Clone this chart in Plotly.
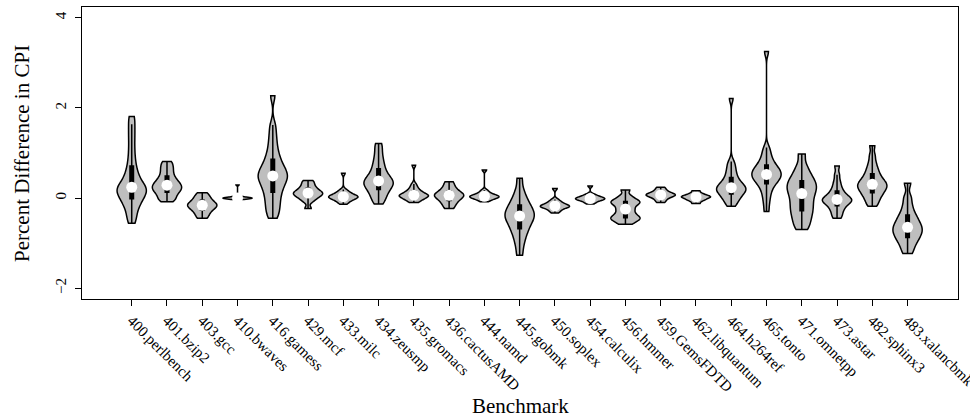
import numpy as np
import plotly.graph_objects as go

benchmarks = ["400.perlbench", "401.bzip2", "403.gcc", "410.bwaves", "416.gamess",
              "429.mcf", "433.milc", "434.zeusmp", "435.gromacs", "436.cactusAMD",
              "444.namd", "445.gobmk", "450.soplex", "454.calculix", "456.hmmer",
              "459.GemsFDTD", "462.libquantum", "464.h264ref", "465.tonto",
              "471.omnetpp", "473.astar", "482.sphinx3", "483.xalancbmk"]

# Percent difference in CPI
perlbench = [-0.56, -0.44, -0.33, -0.24, -0.16, -0.10, -0.05, 0.00, 0.04, 0.08, 0.12,
             0.15, 0.18, 0.21, 0.24, 0.28, 0.32, 0.37, 0.43, 0.50, 0.58, 0.68, 0.80,
             0.95, 1.12, 1.30, 1.47, 1.64, 1.81]
bzip2 = [-0.08, -0.03, 0.02, 0.07, 0.11, 0.15, 0.18, 0.21, 0.24, 0.27, 0.30, 0.33,
         0.37, 0.41, 0.46, 0.52, 0.59, 0.66, 0.73, 0.81]
gcc = [-0.45, -0.38, -0.32, -0.27, -0.23, -0.20, -0.17, -0.15, -0.12, -0.09, -0.05,
       0.00, 0.05, 0.12]
bwaves = [-0.03, -0.02, -0.02, -0.01, -0.01, -0.01, 0.0, 0.0, 0.0, 0.01, 0.01, 0.01,
          0.02, 0.02, 0.03, 0.29]
gamess = [-0.45, -0.34, -0.24, -0.15, -0.06, 0.03, 0.11, 0.18, 0.25, 0.31, 0.36, 0.41,
          0.45, 0.49, 0.53, 0.57, 0.62, 0.67, 0.73, 0.80, 0.88, 0.98, 1.10, 1.25,
          1.42, 1.62, 2.27]
mcf = [-0.23, -0.08, -0.02, 0.02, 0.05, 0.08, 0.10, 0.12, 0.15, 0.18, 0.22, 0.27,
       0.33, 0.39]
milc = [-0.14, -0.10, -0.07, -0.05, -0.03, -0.01, 0.00, 0.01, 0.02, 0.03, 0.04, 0.05,
        0.06, 0.08, 0.10, 0.12, 0.15, 0.19, 0.55]
zeusmp = [-0.13, -0.05, 0.02, 0.08, 0.13, 0.18, 0.22, 0.26, 0.29, 0.32, 0.35, 0.38,
          0.41, 0.45, 0.49, 0.54, 0.60, 0.67, 0.75, 0.84, 0.95, 1.08, 1.21]
gromacs = [-0.10, -0.07, -0.04, -0.02, 0.00, 0.02, 0.03, 0.04, 0.05, 0.06, 0.07, 0.08,
           0.10, 0.12, 0.14, 0.17, 0.20, 0.25, 0.31, 0.73]
cactusADM = [-0.23, -0.15, -0.09, -0.04, 0.00, 0.03, 0.06, 0.08, 0.11, 0.15, 0.20,
             0.27, 0.36]
namd = [-0.08, -0.05, -0.03, -0.01, 0.00, 0.01, 0.02, 0.03, 0.04, 0.05, 0.06, 0.07,
        0.09, 0.11, 0.14, 0.18, 0.62]
gobmk = [-1.27, -1.05, -0.90, -0.78, -0.70, -0.62, -0.55, -0.49, -0.44, -0.40, -0.36,
         -0.31, -0.26, -0.20, -0.14, -0.06, 0.04, 0.18, 0.44]
soplex = [-0.33, -0.29, -0.26, -0.23, -0.21, -0.20, -0.19, -0.18, -0.17, -0.16, -0.14,
          -0.12, -0.10, -0.07, -0.03, 0.21]
calculix = [-0.13, -0.10, -0.07, -0.05, -0.04, -0.03, -0.02, -0.01, 0.00, 0.01, 0.02,
            0.04, 0.06, 0.09, 0.27]
hmmer = [-0.58, -0.52, -0.48, -0.45, -0.42, -0.38, -0.33, -0.27, -0.22, -0.16, -0.12,
         -0.09, -0.06, -0.02, 0.05, 0.18]
gemsfdtd = [-0.10, -0.05, -0.01, 0.02, 0.04, 0.06, 0.07, 0.08, 0.10, 0.12, 0.15, 0.19, 0.24]
libquantum = [-0.12, -0.07, -0.04, -0.02, 0.00, 0.02, 0.03, 0.04, 0.06, 0.08, 0.11, 0.16]
h264ref = [-0.18, -0.11, -0.05, 0.00, 0.04, 0.08, 0.11, 0.14, 0.17, 0.19, 0.21, 0.23,
           0.26, 0.29, 0.32, 0.36, 0.41, 0.47, 0.54, 0.62, 0.71, 0.81, 2.21]
tonto = [-0.30, -0.12, 0.02, 0.13, 0.22, 0.29, 0.34, 0.38, 0.42, 0.45, 0.48, 0.51,
         0.54, 0.57, 0.60, 0.63, 0.67, 0.71, 0.76, 0.82, 0.90, 1.00, 1.12, 3.25]
omnetpp = [-0.70, -0.58, -0.48, -0.38, -0.30, -0.22, -0.14, -0.06, 0.02, 0.10, 0.16,
           0.22, 0.28, 0.34, 0.40, 0.48, 0.58, 0.72, 0.98]
astar = [-0.45, -0.38, -0.31, -0.25, -0.20, -0.16, -0.12, -0.09, -0.07, -0.05, -0.03,
         -0.01, 0.02, 0.05, 0.09, 0.14, 0.20, 0.28, 0.38, 0.52, 0.71]
sphinx3 = [-0.18, -0.10, -0.03, 0.03, 0.08, 0.12, 0.16, 0.20, 0.23, 0.26, 0.29, 0.32,
           0.35, 0.39, 0.43, 0.48, 0.54, 0.61, 0.69, 0.80, 0.95, 1.16]
xalancbmk = [-1.23, -1.10, -1.00, -0.92, -0.86, -0.80, -0.75, -0.70, -0.65, -0.60,
             -0.54, -0.47, -0.40, -0.30, -0.16, 0.02, 0.33]

series = [perlbench, bzip2, gcc, bwaves, gamess, mcf, milc, zeusmp, gromacs, cactusADM,
          namd, gobmk, soplex, calculix, hmmer, gemsfdtd, libquantum, h264ref, tonto,
          omnetpp, astar, sphinx3, xalancbmk]

# kernel bandwidths used for the density estimate of each violin
bandwidths = [0.12, 0.06, 0.06, 0.015, 0.13, 0.05, 0.04, 0.09, 0.045, 0.06, 0.03, 0.13,
              0.035, 0.03, 0.05, 0.035, 0.025, 0.09, 0.10, 0.12, 0.07, 0.08, 0.10]

FONT = "Liberation Serif"

fig = go.Figure()
for name, vals, bw in zip(benchmarks, series, bandwidths):
    fig.add_trace(go.Violin(
        x=[name] * len(vals), y=vals, name=name,
        width=0.83, bandwidth=bw, spanmode="hard", scalemode="width",
        points=False,
        line=dict(color="black", width=1.5),
        fillcolor="#bebebe", opacity=1,
        box=dict(visible=True, width=0.12, fillcolor="black",
                 line=dict(color="black", width=1.5)),
        meanline=dict(visible=False),
        showlegend=False, hoverinfo="skip",
    ))

medians = [float(np.median(v)) for v in series]
fig.add_trace(go.Scatter(
    x=benchmarks, y=medians, mode="markers",
    marker=dict(color="white", size=11, line=dict(width=0)),
    showlegend=False, hoverinfo="skip",
))

fig.update_layout(
    width=970, height=417,
    margin=dict(l=82, r=12, t=7, b=118),
    paper_bgcolor="white", plot_bgcolor="white",
    font=dict(family=FONT, size=15, color="black"),
    violinmode="overlay",
    showlegend=False,
    annotations=[
        dict(text="Benchmark", xref="paper", yref="paper", x=0.5, y=-0.318,
             xanchor="center", yanchor="top", showarrow=False,
             font=dict(family=FONT, size=21, color="black")),
        dict(text="Percent Difference in CPI", xref="paper", yref="paper",
             x=-0.0685, y=0.5, xanchor="center", yanchor="middle", textangle=-90,
             showarrow=False, font=dict(family=FONT, size=21, color="black")),
    ],
)
fig.update_xaxes(
    type="category", categoryorder="array", categoryarray=benchmarks,
    range=[-1.41, 23.43], tickangle=45, automargin=False,
    ticks="outside", ticklen=6, tickwidth=1, tickcolor="black",
    showline=True, linecolor="black", linewidth=1, mirror=True,
    showgrid=False, zeroline=False,
    tickfont=dict(family=FONT, size=15, color="black"),
)
fig.update_yaxes(
    range=[-2.24, 4.24], tickvals=[-2, 0, 2, 4], tickangle=-90, automargin=False,
    ticks="outside", ticklen=6, tickwidth=1, tickcolor="black",
    showline=True, linecolor="black", linewidth=1, mirror=True,
    showgrid=False, zeroline=False, ticklabelstandoff=3,
    tickfont=dict(family=FONT, size=15, color="black"),
)

fig.write_html("out.html",
               config={"displayModeBar": False, "staticPlot": True},
               post_script="document.body.style.margin='0';"
                           "document.body.style.padding='0';")
